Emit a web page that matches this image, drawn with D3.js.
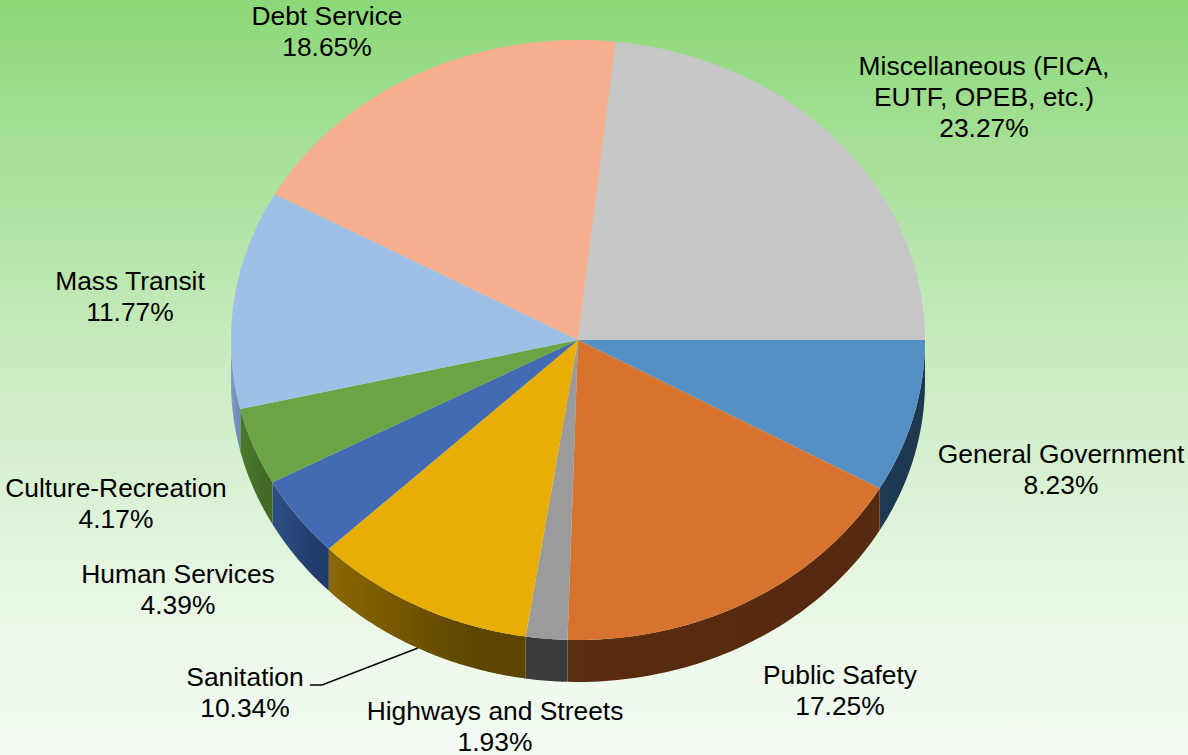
<!DOCTYPE html>
<html><head><meta charset="utf-8">
<script src="https://cdn.jsdelivr.net/npm/d3@7"></script>
<style>html,body{margin:0;padding:0;background:#fff}svg{display:block}text{font-family:"Liberation Sans",Arial,sans-serif;font-size:26.4px;fill:#000}</style>
</head><body><svg id="c" width="1188" height="755"></svg>
<script>
const categories=["General Government","Public Safety","Highways and Streets","Sanitation","Human Services","Culture-Recreation","Mass Transit","Debt Service","Miscellaneous (FICA, EUTF, OPEB, etc.)"];
const shares=[8.23,17.25,1.93,10.34,4.39,4.17,11.77,18.65,23.27];
const topColors=["#5590c5","#d8732f","#9b9b9b","#e8ae05","#426bb2","#6ba345","#9fc0e6","#f6ae8f","#c6c6c6"];
const wallLeft=["#203a55","#5a2c10","#3b3b3b","#8a6800","#2f4f85","#4c7a2c","#7f9dc4","#a8745c","#888888"];
const wallRight=["#1f3850","#562a0f","#3b3b3b","#5c4500","#213c6b","#426a26","#6f8fb8","#a8745c","#888888"];
const labelLines=[["General Government","8.23%"],["Public Safety","17.25%"],["Highways and Streets","1.93%"],["Sanitation","10.34%"],["Human Services","4.39%"],["Culture-Recreation","4.17%"],["Mass Transit","11.77%"],["Debt Service","18.65%"],["Miscellaneous (FICA,","EUTF, OPEB, etc.)","23.27%"]];
const labelAnchors=[[1061,463],[840,684],[495,720],[245,686],[178,583],[116,497],[130,290],[327,25],[984,75]];

const W=1188,H=755,cx=578,cy=340,rx=347,ry=300,depth=42;
const svg=d3.select("#c");
const defs=svg.append("defs");
const bg=defs.append("linearGradient").attr("id","bg").attr("x1",0).attr("x2",0).attr("y1",0).attr("y2",1);
bg.append("stop").attr("offset","0").attr("stop-color","#8cd878");
bg.append("stop").attr("offset","0.45").attr("stop-color","#c6eabd");
bg.append("stop").attr("offset","0.8").attr("stop-color","#e9f7e6");
bg.append("stop").attr("offset","1").attr("stop-color","#f4fbf3");
svg.append("rect").attr("width",W).attr("height",H).attr("fill","url(#bg)");

// Pie layout starts at 3 o'clock and runs clockwise in screen space.
const pie=d3.pie().sort(null).value(d=>d).startAngle(0).endAngle(2*Math.PI);
const arcs=pie(shares);
const X=d3.scaleLinear().domain([-1,1]).range([cx-rx,cx+rx]);
const Y=d3.scaleLinear().domain([-1,1]).range([cy-ry,cy+ry]);
const pt=(a,dy=0)=>[X(Math.cos(a)),Y(Math.sin(a))+dy];
const line=d3.line();
const sample=(a0,a1,n)=>d3.range(n+1).map(i=>a0+(a1-a0)*i/n);

// Extruded wall: only the front half of the ellipse (angles 0..PI) is visible.
const wallLayer=svg.append("g");
arcs.forEach((d,i)=>{
  const a0=Math.max(d.startAngle,0),a1=Math.min(d.endAngle,Math.PI);
  if(a1<=a0)return;
  const g=defs.append("linearGradient").attr("id","w"+i).attr("gradientUnits","userSpaceOnUse")
    .attr("x1",pt(a1)[0]).attr("x2",pt(a0)[0]).attr("y1",0).attr("y2",0);
  g.append("stop").attr("offset",0).attr("stop-color",wallLeft[i]);
  g.append("stop").attr("offset",0.75).attr("stop-color",wallRight[i]);
  const s=sample(a0,a1,60);
  const p=s.map(a=>pt(a)).concat(s.slice().reverse().map(a=>pt(a,depth)));
  wallLayer.append("path").attr("d",line(p)+"Z").attr("fill",`url(#w${i})`);
});

// Top face of each slice.
const faceLayer=svg.append("g");
arcs.forEach((d,i)=>{
  const p=[[X(0),Y(0)]].concat(sample(d.startAngle,d.endAngle,120).map(a=>pt(a)));
  faceLayer.append("path").attr("d",line(p)+"Z").attr("fill",topColors[i]);
});

// Leader line for the Sanitation label.
svg.append("path").attr("d",line([[310,685],[322,685],[418,648]])).attr("fill","none").attr("stroke","#000").attr("stroke-width",1.4);

// Labels.
const lh=31;
labelLines.forEach((ls,i)=>{
  const t=svg.append("text").attr("text-anchor","middle");
  ls.forEach((s,j)=>t.append("tspan").attr("x",labelAnchors[i][0]).attr("y",labelAnchors[i][1]+j*lh).text(s));
});
</script></body></html>
